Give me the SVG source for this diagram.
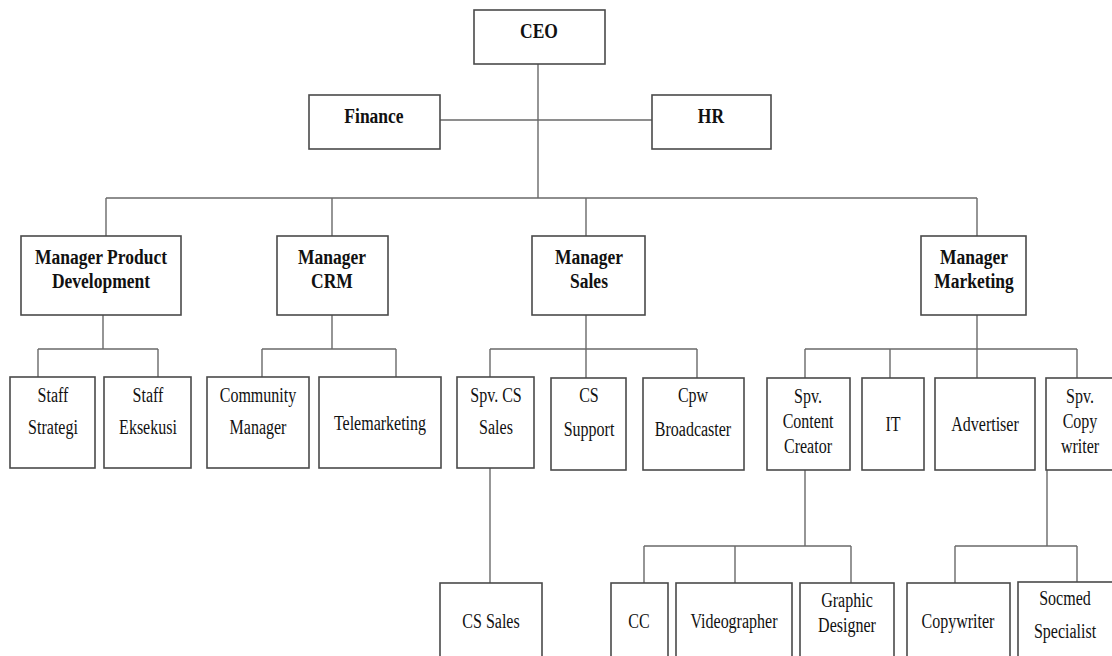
<svg xmlns="http://www.w3.org/2000/svg" width="1112" height="656" viewBox="0 0 1112 656">
<style>
.box{fill:#fff;stroke:#4a4a4a;stroke-width:1.6}
.ln{fill:none;stroke:#6a6a6a;stroke-width:1.4}
text{font-family:"Liberation Serif","Times New Roman",serif;fill:#111;text-anchor:middle;transform-box:fill-box;transform-origin:center;transform:scaleY(1.25)}
.b{font-weight:bold;font-size:17.5px}
.r{font-size:16px}
</style>
<rect width="1112" height="656" fill="#fff"/>
<g id="connectors" class="ln">
<path d="M538 64V198M440 120H652M106 198H977M106 198V236M332 198V236M586 198V236M977 198V236"/>
<path d="M103 315V349M38 349H158M38 349V377M158 349V377"/>
<path d="M332 315V349M262 349H396M262 349V377M396 349V377"/>
<path d="M586 315V349M490 349H697M490 349V377M586 349V378M697 349V378"/>
<path d="M490 468V583"/>
<path d="M977 315V349M805 349H1077M805 349V378M890 349V378M977 349V378M1077 349V378"/>
<path d="M805 470V546M644 546H851M644 546V583M735 546V583M851 546V583"/>
<path d="M1047 470V546M955 546H1077M955 546V583M1077 546V582"/>
</g>
<g id="ceo"><rect class="box" x="474" y="10" width="131" height="54"/><text class="b" x="539" y="36">CEO</text></g>
<g id="finance"><rect class="box" x="309" y="95" width="131" height="54"/><text class="b" x="374" y="121">Finance</text></g>
<g id="hr"><rect class="box" x="652" y="95" width="119" height="54"/><text class="b" x="711" y="121">HR</text></g>
<g id="mgr-pd"><rect class="box" x="21" y="236" width="160" height="79"/><text class="b" x="101" y="262">Manager Product</text><text class="b" x="101" y="286">Development</text></g>
<g id="mgr-crm"><rect class="box" x="277" y="236" width="111" height="79"/><text class="b" x="332" y="262">Manager</text><text class="b" x="332" y="286">CRM</text></g>
<g id="mgr-sales"><rect class="box" x="532" y="236" width="113" height="79"/><text class="b" x="589" y="262">Manager</text><text class="b" x="589" y="286">Sales</text></g>
<g id="mgr-marketing"><rect class="box" x="921" y="236" width="105" height="79"/><text class="b" x="974" y="262">Manager</text><text class="b" x="974" y="286">Marketing</text></g>
<g id="staff-strategi"><rect class="box" x="10" y="377" width="85" height="91"/><text class="r" x="53" y="401">Staff</text><text class="r" x="53" y="433">Strategi</text></g>
<g id="staff-eksekusi"><rect class="box" x="104" y="377" width="87" height="91"/><text class="r" x="148" y="401">Staff</text><text class="r" x="148" y="433">Eksekusi</text></g>
<g id="community-manager"><rect class="box" x="207" y="377" width="102" height="91"/><text class="r" x="258" y="401">Community</text><text class="r" x="258" y="433">Manager</text></g>
<g id="telemarketing"><rect class="box" x="319" y="377" width="122" height="91"/><text class="r" x="380" y="429">Telemarketing</text></g>
<g id="spv-cs-sales"><rect class="box" x="457" y="377" width="77" height="91"/><text class="r" x="496" y="401">Spv. CS</text><text class="r" x="496" y="433">Sales</text></g>
<g id="cs-support"><rect class="box" x="551" y="378" width="75" height="92"/><text class="r" x="589" y="401">CS</text><text class="r" x="589" y="435">Support</text></g>
<g id="cpw-broadcaster"><rect class="box" x="643" y="378" width="101" height="92"/><text class="r" x="693" y="401">Cpw</text><text class="r" x="693" y="435">Broadcaster</text></g>
<g id="spv-content-creator"><rect class="box" x="767" y="378" width="83" height="92"/><text class="r" x="808" y="402">Spv.</text><text class="r" x="808" y="427">Content</text><text class="r" x="808" y="452">Creator</text></g>
<g id="it"><rect class="box" x="862" y="378" width="62" height="92"/><text class="r" x="893" y="430">IT</text></g>
<g id="advertiser"><rect class="box" x="935" y="378" width="100" height="92"/><text class="r" x="985" y="430">Advertiser</text></g>
<g id="spv-copywriter"><rect class="box" x="1046" y="378" width="70" height="92"/><text class="r" x="1080" y="402">Spv.</text><text class="r" x="1080" y="427">Copy</text><text class="r" x="1080" y="452">writer</text></g>
<g id="cs-sales"><rect class="box" x="440" y="583" width="102" height="80"/><text class="r" x="491" y="627">CS Sales</text></g>
<g id="cc"><rect class="box" x="611" y="583" width="57" height="80"/><text class="r" x="639" y="627">CC</text></g>
<g id="videographer"><rect class="box" x="676" y="583" width="116" height="80"/><text class="r" x="734" y="627">Videographer</text></g>
<g id="graphic-designer"><rect class="box" x="800" y="583" width="94" height="80"/><text class="r" x="847" y="606">Graphic</text><text class="r" x="847" y="631">Designer</text></g>
<g id="copywriter"><rect class="box" x="907" y="583" width="103" height="80"/><text class="r" x="958" y="627">Copywriter</text></g>
<g id="socmed-specialist"><rect class="box" x="1018" y="582" width="98" height="80"/><text class="r" x="1065" y="604">Socmed</text><text class="r" x="1065" y="637">Specialist</text></g>
</svg>
